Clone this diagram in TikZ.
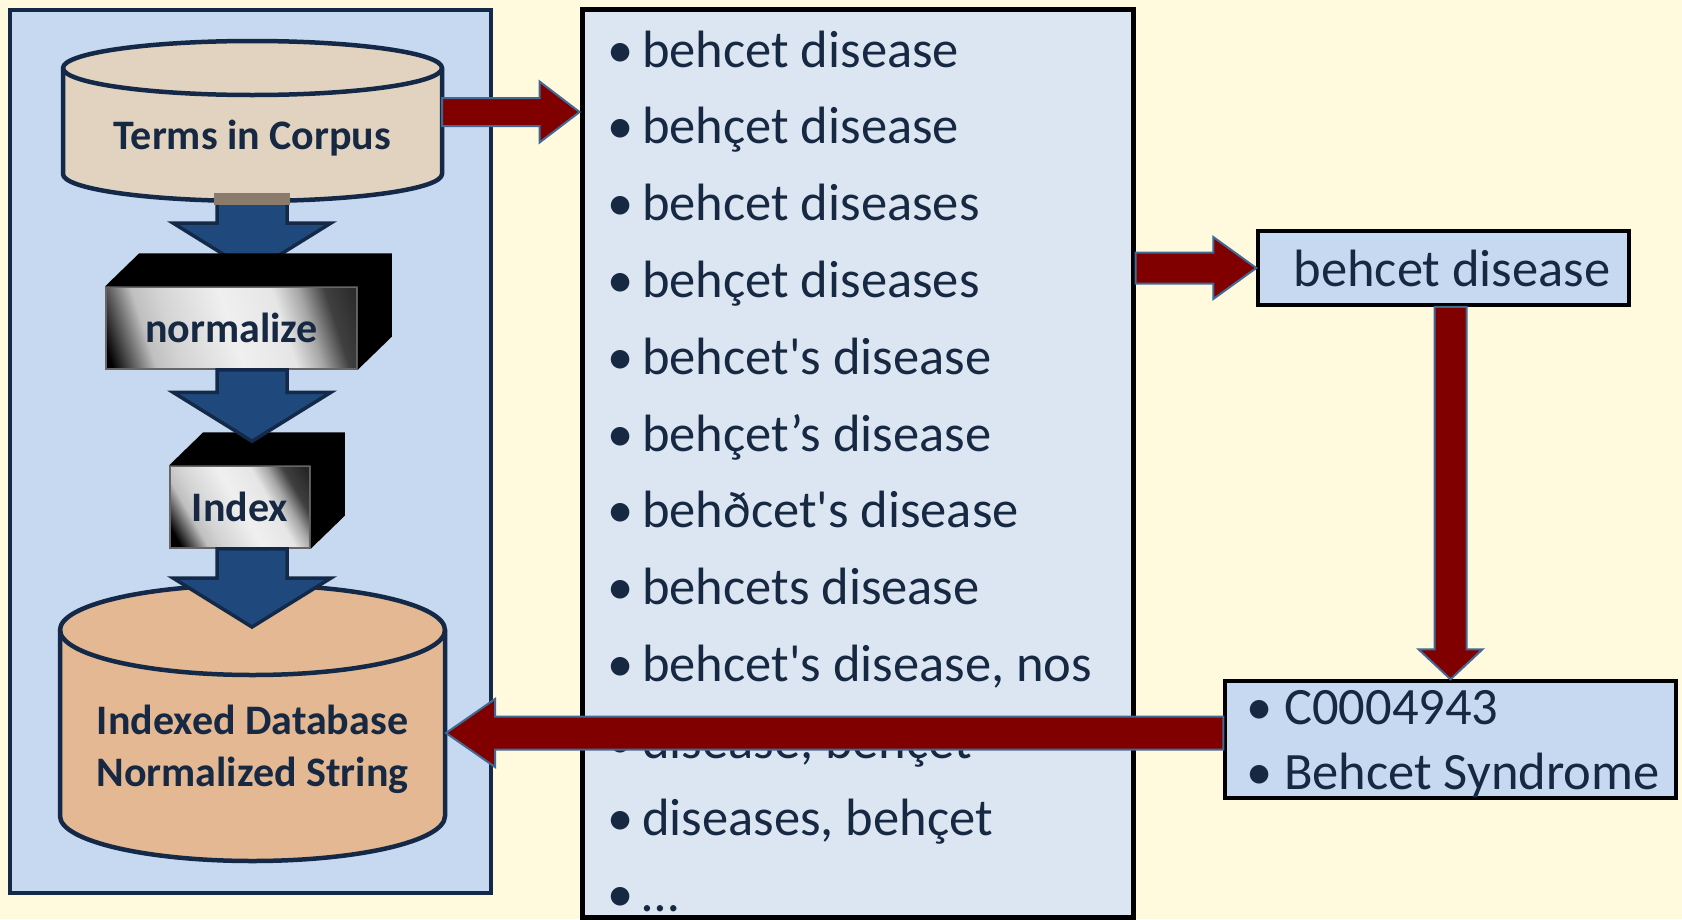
\documentclass[tikz,border=0pt]{standalone}
\usepackage{fontspec}
\setmainfont{Carlito}[Ligatures=TeXOff]
\usetikzlibrary{calc,positioning}

\definecolor{cream}{RGB}{255,249,222}
\definecolor{panelblue}{RGB}{198,217,240}
\definecolor{listblue}{RGB}{220,230,242}
\definecolor{navy}{RGB}{19,41,71}
\definecolor{inknavy}{RGB}{22,40,66}
\definecolor{flowblue}{RGB}{31,73,125}
\definecolor{corpustan}{RGB}{226,211,193}
\definecolor{dbtan}{RGB}{227,184,147}
\definecolor{patchbrown}{RGB}{139,123,108}
\definecolor{maproon}{RGB}{128,0,0}
\definecolor{steel}{RGB}{65,105,150}

\pgfdeclareverticalshading{boxface}{100bp}{color(0bp)=(black); color(20bp)=(black); color(24bp)=(black!70); color(30bp)=(black!25); color(36bp)=(black!17); color(50bp)=(black!6); color(62bp)=(black!10); color(68bp)=(black!35); color(74bp)=(black!75); color(82bp)=(black!85); color(100bp)=(black!85)}

\newcommand{\blockarrow}[6]{%
  \draw[#1] let \p1=#3, \p2=#2, \p3=($(\p1)!#6!(\p2)$) in
    ($(\p2)!#4!90:(\p1)$) -- ($(\p3)!#4!90:(\p1)$) -- ($(\p3)!#5!90:(\p1)$) -- (\p1)
    -- ($(\p3)!#5!-90:(\p1)$) -- ($(\p3)!#4!-90:(\p1)$) -- ($(\p2)!#4!-90:(\p1)$) -- cycle;}

\begin{document}
\begin{tikzpicture}[x=1pt, y=-1pt,
  labelfont/.style={font=\fontsize{42pt}{52pt}\selectfont\bfseries, text=inknavy},
  termfont/.style={font=\fontsize{52.5pt}{63pt}\selectfont, text=inknavy},
  panel/.style={draw=navy, line width=4.5pt, fill=panelblue},
  listbox/.style={draw=black, line width=5pt, fill=listblue},
  termbox/.style={draw=black, line width=3.5pt, fill=panelblue},
  term/.style={termfont, anchor=base west, inner sep=0pt},
  db/.style={draw=navy, line width=4.5pt},
  stepbox/.style={labelfont, draw=black!60, line width=1.5pt, shading=boxface, shading angle=-72, inner sep=0pt},
  flowarrow/.style={draw=navy, line width=3.5pt, fill=flowblue, line join=miter},
  maparrow/.style={draw=steel, line width=2pt, fill=maproon}
]
\fill[cream] (0,0) rectangle (1682,919);
\useasboundingbox (0,0) rectangle (1682,919);

\node[panel, minimum width=481pt, minimum height=883pt] (pipeline) at (250.5,451.5) {};
\node[listbox, minimum width=551pt, minimum height=908pt] (variants) at (857.5,463) {};
\foreach \variant [count=\i] in {behcet disease, behçet disease, behcet diseases, behçet diseases,
    behcet's disease, behçet’s disease, behðcet's disease, behcets disease,
    {behcet's disease, nos}, {disease, behçet}, {diseases, behçet}, …}
  \node[term] (variant\i) at (607, {67+76.8*(\i-1)}) {\makebox[35pt][l]{•}\variant};

\coordinate (flow) at (252,0);
\coordinate (corpusout) at (252,193);
\coordinate (normalizein) at (252,272);
\blockarrow{flowarrow}{(corpusout)}{(normalizein)}{35pt}{79pt}{49pt}

\draw[db, fill=corpustan] (63,68) -- (63,174) arc[start angle=180, end angle=360, x radius=189.5pt, y radius=27pt]
  -- (442,68) arc[start angle=0, end angle=180, x radius=189.5pt, y radius=27pt] -- cycle;
\draw[db] (63,68) arc[start angle=180, end angle=360, x radius=189.5pt, y radius=27pt];
\node[labelfont, anchor=base, inner sep=0pt] (corpus) at (252.5,149) {Terms in Corpus};
\fill[patchbrown] (214,193) rectangle (290,205);

\node[stepbox, minimum width=251pt, minimum height=82pt] (normalize) at (231.5,328) {normalize};
\node[stepbox, shading angle=-60, minimum width=140pt, minimum height=82pt] (index) at (240,507) {Index};
\foreach \stepname in {normalize,index}
  \fill[black] (\stepname.north west) -- ++(34pt,33pt) -- ($(\stepname.north east)+(34pt,33pt)$)
    -- ($(\stepname.south east)+(34pt,33pt)$) -- (\stepname.south east) -- (\stepname.north east) -- cycle;
\blockarrow{flowarrow}{(flow |- normalize.south)}{($(flow |- index.north)+(0,-24)$)}{35pt}{79pt}{49pt}

\draw[db, fill=dbtan] (60,630) -- (60,816) arc[start angle=180, end angle=360, x radius=192.5pt, y radius=45pt]
  -- (445,630) arc[start angle=0, end angle=180, x radius=192.5pt, y radius=45pt] -- cycle;
\draw[db] (60,630) arc[start angle=180, end angle=360, x radius=192.5pt, y radius=45pt];
\node[labelfont, align=center, inner sep=0pt] (indexdb) at (252.5,749) {Indexed Database\\Normalized String};
\coordinate (dbtop) at (252,627);
\blockarrow{flowarrow}{(flow |- index.south)}{(dbtop)}{35pt}{79pt}{49pt}

\node[termbox, termfont, minimum width=371pt, minimum height=74pt, inner xsep=0pt, inner ysep=0pt]
  (normbox) at (1443.5,268) {\hspace*{17pt}behcet disease};
\node[termbox, minimum width=451pt, minimum height=117pt] (concept) at (1450.5,739.5) {};
\node[term] (cui) at (1246,724) {\makebox[38pt][l]{•}C0004943};
\node[term] (prefname) at (1246,789) {\makebox[38pt][l]{•}Behcet Syndrome};

\coordinate (corpusside) at (442,112);
\coordinate (dbside) at (446,733);
\blockarrow{maparrow}{(corpusside)}{(variants.west |- corpusside)}{14pt}{30.5pt}{40pt}
\blockarrow{maparrow}{(variants.east |- normbox.west)}{(normbox.west)}{15.5pt}{31pt}{43pt}
\blockarrow{maparrow}{(concept.north |- normbox.south)}{(concept.north)}{16pt}{32pt}{30pt}
\blockarrow{maparrow}{(concept.west |- dbside)}{(dbside)}{16.5pt}{34pt}{49pt}
\end{tikzpicture}
\end{document}
